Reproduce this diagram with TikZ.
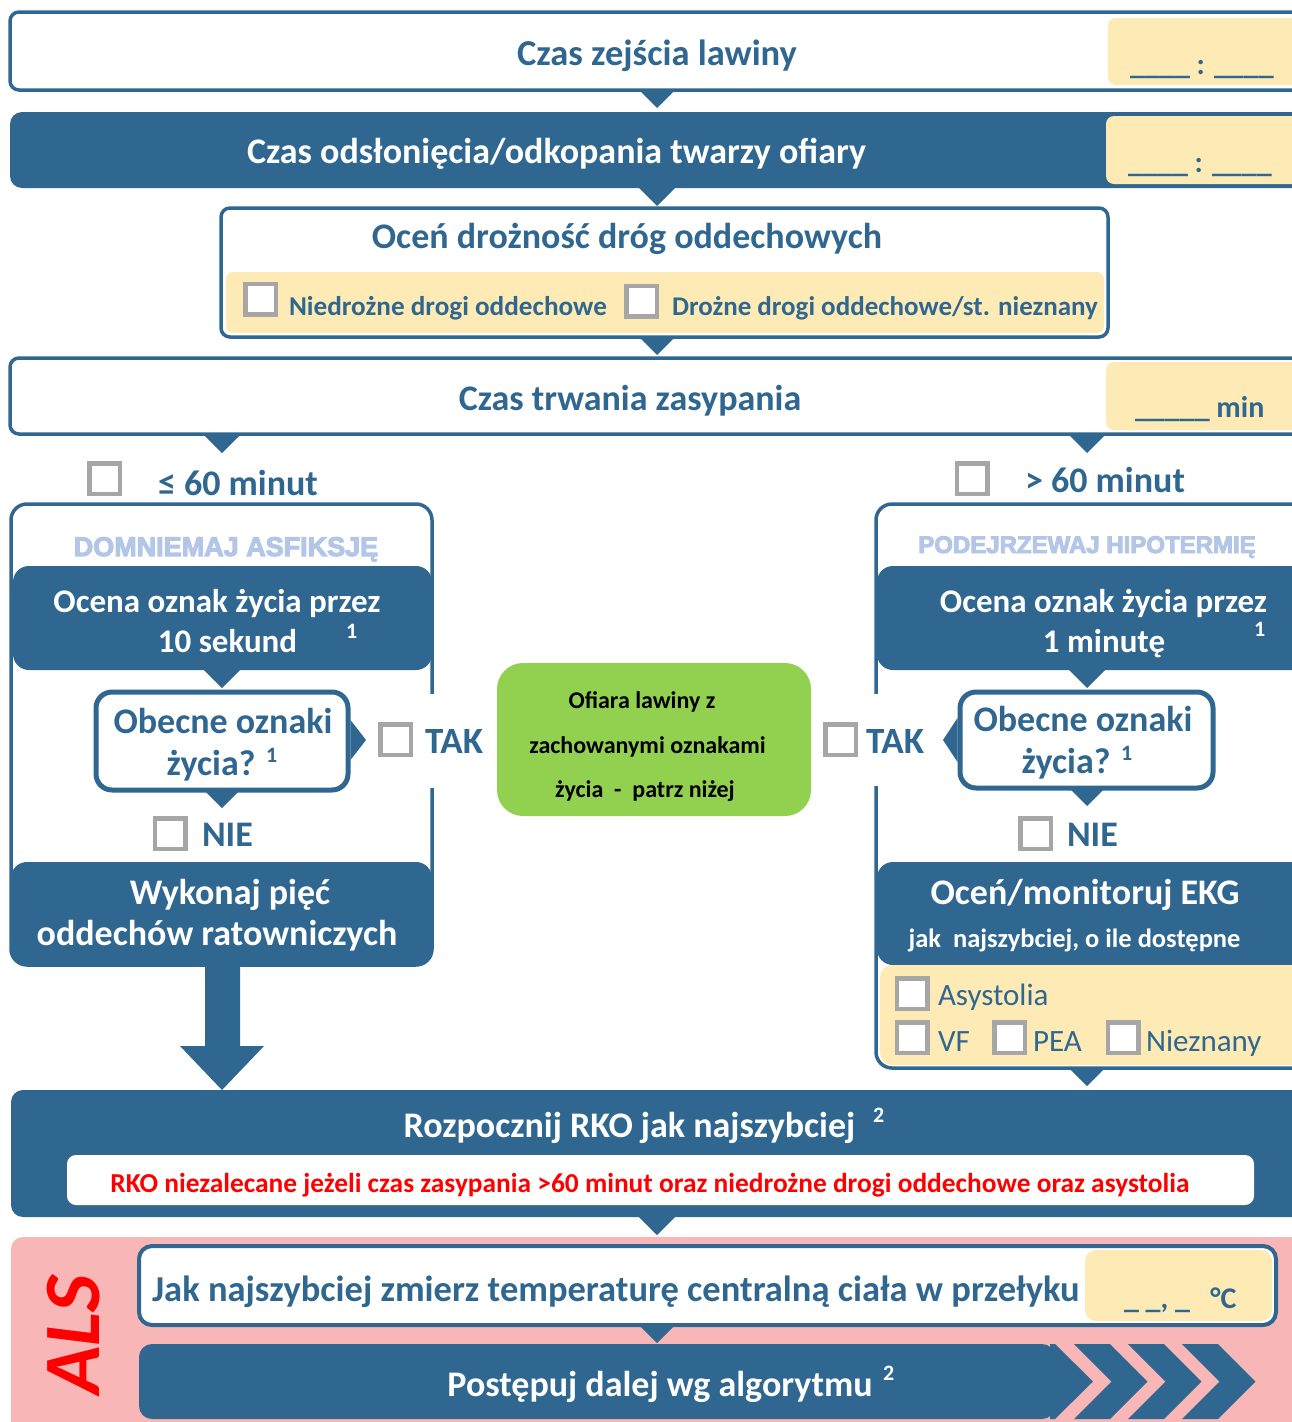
\documentclass[tikz,border=0pt]{standalone}
\usepackage{fontspec}
\setmainfont{Carlito}
\newfontfamily\heavyfont{Liberation Sans Bold}[FakeBold=4]
\usetikzlibrary{calc}
\definecolor{blueD}{RGB}{47,103,145}
\definecolor{yellowL}{RGB}{254,234,180}
\definecolor{grayCB}{RGB}{166,166,166}
\definecolor{greenB}{RGB}{146,208,80}
\definecolor{pinkB}{RGB}{249,182,182}
\definecolor{lblue}{RGB}{180,198,231}
\definecolor{redT}{RGB}{255,0,0}
\tikzset{
  wbox/.style={draw=blueD, fill=white, line width=3.5, rounded corners=9},
  bbox/.style={fill=blueD, rounded corners=12},
  ybox/.style={fill=yellowL, rounded corners=8},
  cbox/.style={draw=grayCB, fill=white, line width=4.5, minimum size=30.5, inner sep=0, rectangle},
  tx/.style={inner sep=0, outer sep=0, anchor=base},
  txl/.style={inner sep=0, outer sep=0, anchor=base west},
  fs/.style={font=\bfseries\fontsize{#1}{#1}\selectfont},
  fr/.style={font=\fontsize{#1}{#1}\selectfont},
  tri/.style={fill=blueD},
}
\newcommand{\tridown}[1]{\fill[tri] (#1) -- ++(-18,-18) -- ++(36,0) -- cycle;}
\begin{document}
\begin{tikzpicture}[x=1pt,y=-1pt]
\useasboundingbox[fill=white] (0,0) rectangle (1292,1422);

% ---- Box 1
\node[wbox, minimum width=1300, minimum height=78, inner sep=0] (b1) at (660,51) {};
\node[ybox, minimum width=192, minimum height=67, inner sep=0] (y1) at (1204,51.5) {};
\node[tx, fs=36.5, blueD] (b1t) at (657,65) {Czas zejścia lawiny};
\node[tx, fs=30, blueD] (y1t) at (1202,74) {\_\_\_\_ : \_\_\_\_};
\coordinate (t1) at (657,108);
\tridown{t1}

% ---- Box 2
\node[bbox, minimum width=1300, minimum height=76, inner sep=0] (b2) at (660,150) {};
\node[ybox, minimum width=194, minimum height=68, inner sep=0] (y2) at (1203,150) {};
\node[tx, fs=36, white] (b2t) at (556.5,163) {Czas odsłonięcia/odkopania twarzy ofiary};
\node[tx, fs=30, blueD] (y2t) at (1200,172) {\_\_\_\_ : \_\_\_\_};
\coordinate (t2) at (657,206);
\tridown{t2}

% ---- Box 3
\node[wbox, minimum width=887, minimum height=129, inner sep=0] (b3) at (664.5,272.5) {};
\fill[yellowL, rounded corners=7] (226,272) rectangle (1104,333);
\node[tx, fs=36, blueD] (b3t) at (627,248) {Oceń drożność dróg oddechowych};
\node[cbox] (cb1) at (260.5,299) {};
\node[txl, fs=27.2, blueD] (cb1t) at (289,315) {Niedrożne drogi oddechowe};
\node[cbox] (cb2) at (641.5,301) {};
\node[txl, fs=27, blueD] (cb2t) at (672,315) {Drożne drogi oddechowe/st. nieznany};
\coordinate (t3) at (657,355);
\tridown{t3}

% ---- Box 4
\node[wbox, minimum width=1300, minimum height=76, inner sep=0] (b4) at (660,396) {};
\node[ybox, minimum width=194, minimum height=68, inner sep=0] (y4) at (1203,396) {};
\node[tx, fs=36, blueD] (b4t) at (630,410) {Czas trwania zasypania};
\node[txl, fs=30, blueD] (y4t) at (1135,417) {\_\_\_\_\_ min};
\coordinate (t4a) at (222,453);
\coordinate (t4b) at (1087,453);
\tridown{t4a}
\tridown{t4b}

% ---- choice checkboxes
\node[cbox] (cbL) at (104.5,478.5) {};
\node[txl, fs=36, blueD] (cbLt) at (158,495) {≤ 60 minut};
\node[cbox] (cbR) at (972,478.5) {};
\node[txl, fs=36, blueD] (cbRt) at (1025,492) {> 60 minut};

% ---- Left container
\node[wbox, rounded corners=16, minimum width=421, minimum height=461, inner sep=0] (cL) at (221.5,734.5) {};
\fill[white] (426,694) rectangle (438,788);
\node[tx, lblue, font=\heavyfont\fontsize{27}{27}\selectfont] (cLt) at (226,556) {DOMNIEMAJ ASFIKSJĘ};
\node[bbox, rounded corners=16, minimum width=419, minimum height=104, inner sep=0] (bL1) at (222.5,618) {};
\node[tx, fs=33, white] (bL1a) at (217,612) {Ocena oznak życia przez};
\node[tx, fs=33, white] (bL1b) at (227.5,652) {10 sekund};
\node[txl, fs=22, white] (bL1s) at (346,638) {1};
\coordinate (tL1) at (222,688);
\tridown{tL1}
\node[wbox, line width=5, rounded corners=16, minimum width=252, minimum height=98, inner sep=0] (oL) at (222,741) {};
\fill[blueD] (oL.east |- 0,720) -- (366,740) -- (oL.east |- 0,760) -- cycle;
\node[tx, fs=36, blueD] (oLa) at (223,733) {Obecne oznaki};
\node[tx, fs=36, blueD] (oLb) at (211,775) {życia?};
\node[txl, fs=22, blueD] (oLs) at (266,762) {1};
\node[cbox] (cbTL) at (395.5,739.5) {};
\node[txl, fs=37, blueD] (cbTLt) at (425,753) {TAK};
\coordinate (tL2) at (222,808);
\tridown{tL2}
\node[cbox] (cbNL) at (170,833.5) {};
\node[txl, fs=36, blueD] (cbNLt) at (202,846) {NIE};
\node[bbox, rounded corners=16, minimum width=421, minimum height=103, inner sep=0] (bL2) at (221.5,913.5) {};
\node[tx, fs=36, white] (bL2a) at (230,904) {Wykonaj pięć};
\node[tx, fs=36, white] (bL2b) at (217,945) {oddechów ratowniczych};
\coordinate (aL) at (222,1090);
\fill[blueD] (bL2.south -| 205,0) -- (205,1046) -- (180,1046) -- (aL) -- (264,1046) -- (240,1046) -- (bL2.south -| 240,0) -- cycle;

% ---- Green box
\node[fill=greenB, rounded corners=26, minimum width=314, minimum height=153, inner sep=0] (gr) at (654,739.5) {};
\node[tx, fs=24, black] (gra) at (642,708) {Ofiara lawiny z};
\node[tx, fs=24, black] (grb) at (647.5,753) {zachowanymi oznakami};
\node[tx, fs=24, black] (grc) at (645,797) {życia\ \ -\ \ patrz niżej};

% ---- Right container
\node[wbox, rounded corners=16, minimum width=434, minimum height=564, inner sep=0] (cR) at (1093,786) {};
\fill[white] (870,694) rectangle (883,786);
\node[tx, lblue, font=\heavyfont\fontsize{24}{24}\selectfont] (cRt) at (1087,553) {PODEJRZEWAJ HIPOTERMIĘ};
\node[bbox, rounded corners=16, minimum width=433, minimum height=104, inner sep=0] (bR1) at (1093.5,618) {};
\node[tx, fs=33, white] (bR1a) at (1103.5,612) {Ocena oznak życia przez};
\node[tx, fs=33, white] (bR1b) at (1104,652) {1 minutę};
\node[txl, fs=22, white] (bR1s) at (1254,636) {1};
\coordinate (tR1) at (1087,688);
\tridown{tR1}
\node[wbox, line width=5, rounded corners=16, minimum width=253, minimum height=96, inner sep=0] (oR) at (1086.5,740) {};
\fill[blueD] (oR.west |- 0,718) -- (943,740) -- (oR.west |- 0,762) -- cycle;
\node[tx, fs=36, blueD] (oRa) at (1083,731) {Obecne oznaki};
\node[tx, fs=36, blueD] (oRb) at (1066,773) {życia?};
\node[txl, fs=22, blueD] (oRs) at (1121,760) {1};
\node[cbox] (cbTR) at (840.5,739.5) {};
\node[txl, fs=37, blueD] (cbTRt) at (866,753) {TAK};
\coordinate (tR2) at (1087,806);
\tridown{tR2}
\node[cbox] (cbNR) at (1035.5,833.5) {};
\node[txl, fs=36, blueD] (cbNRt) at (1067,846) {NIE};
\fill[blueD, rounded corners=16] (877,965) -- (877,862) -- (1310,862) -- (1310,965) -- cycle;
\coordinate (bR2) at (1093,913);
\fill[yellowL, rounded corners=12] (880,965) -- (880,1065) -- (1310,1065) -- (1310,965) -- cycle;
\node[tx, fs=36, white] (bR2a) at (1085,904) {Oceń/monitoruj EKG};
\node[tx, fs=26.5, white] (bR2b) at (1074.5,947) {jak\ \ najszybciej, o ile dostępne};
\node[cbox] (ek1) at (912,993.5) {};
\node[txl, fr=31, blueD] (ek1t) at (938,1005) {Asystolia};
\node[cbox] (ek2) at (912,1037.5) {};
\node[txl, fr=31, blueD] (ek2t) at (938,1051) {VF};
\node[cbox] (ek3) at (1009.5,1037.5) {};
\node[txl, fr=31, blueD] (ek3t) at (1033,1051) {PEA};
\node[cbox] (ek4) at (1123,1037.5) {};
\node[txl, fr=31, blueD] (ek4t) at (1146,1051) {Nieznany};
\coordinate (tR3) at (1087,1086);
\tridown{tR3}

% ---- Box 5
\node[bbox, minimum width=1299, minimum height=127, inner sep=0] (b5) at (660.5,1153.5) {};
\node[fill=white, rounded corners=9, minimum width=1187, minimum height=50, inner sep=0] (w5) at (660.5,1180) {};
\node[tx, fs=36, white] (b5t) at (629.5,1137) {Rozpocznij RKO jak najszybciej};
\node[txl, fs=22, white] (b5s) at (873,1122) {2};
\node[tx, fs=27.4, redT] (w5t) at (650,1192) {RKO niezalecane jeżeli czas zasypania >60 minut oraz niedrożne drogi oddechowe oraz asystolia};
\coordinate (t5) at (657,1235);
\tridown{t5}

% ---- ALS region
\node[fill=pinkB, rounded corners=12, minimum width=1299, minimum height=205, inner sep=0] (als) at (660.5,1339.5) {};
\node[rotate=90, inner sep=0, redT, font=\bfseries\itshape\fontsize{80}{80}\selectfont] (alst) at (74,1335) {ALS};
\node[wbox, line width=4, rounded corners=13, minimum width=1137, minimum height=79, inner sep=0] (b6) at (707.5,1285.5) {};
\node[ybox, rounded corners=11, minimum width=187, minimum height=71, inner sep=0] (y6) at (1178.5,1285.5) {};
\node[tx, fs=36.5, blueD] (b6t) at (616,1301) {Jak najszybciej zmierz temperaturę centralną ciała w przełyku};
\node[txl, fs=30, blueD] (y6t) at (1124,1308) {\_ \_, \_\ \ \ °C};
\coordinate (t6) at (657,1343);
\tridown{t6}
\fill[blueD, rounded corners=13] (1055,1344) -- (139,1344) -- (139,1419) -- (1055,1419) -- cycle;
\fill[blueD] (1050,1344) -- (1055,1344) -- (1093,1381.5) -- (1055,1419) -- (1050,1419) -- cycle;
\coordinate (b7) at (600,1381.5);
\foreach \cx in {1074,1128,1182} {
  \fill[blueD] (\cx,1344) -- (\cx+36,1344) -- (\cx+73.5,1381.5) -- (\cx+36,1419) -- (\cx,1419) -- (\cx+37.5,1381.5) -- cycle;
}
\node[tx, fs=36, white] (b7t) at (660,1396) {Postępuj dalej wg algorytmu};
\node[txl, fs=22, white] (b7s) at (883,1380) {2};
\end{tikzpicture}
\end{document}
